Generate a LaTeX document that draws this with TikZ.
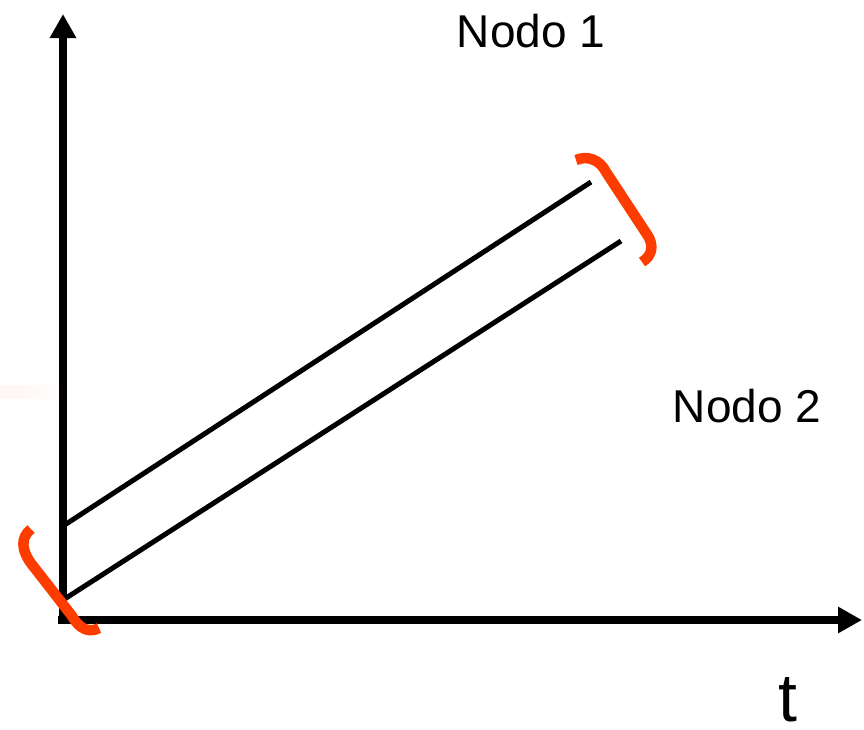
\documentclass[tikz,border=0pt]{standalone}
\usepackage{fontspec}
\setmainfont{Liberation Sans}
\usetikzlibrary{arrows.meta}
\definecolor{brk}{RGB}{255,60,0}
\tikzset{
  axis/.style={line width=8pt,-{Triangle[width=25pt,length=24pt]}},
  trace/.style={line width=5pt},
  bracket/.style={line width=10.5pt,brk,line cap=butt,line join=round},
  lbl/.style={font=\fontsize{46}{50}\selectfont,anchor=base,inner sep=0pt}
}
\begin{document}
\begin{tikzpicture}[x=1pt,y=-1pt]
\useasboundingbox (0,0) rectangle (864,729);
\fill[left color=red!4,right color=red!1] (0,385) rectangle (59,398);
\draw[black!15,line width=0.8pt] (59,385) -- (59,398);
\coordinate (o) at (63,620);
\coordinate (ytop) at (63,14);
\coordinate (xend) at (862,620);
\coordinate (ocorner) at (58,620);
\draw[axis] (63,624) -- (ytop);
\draw[axis] (ocorner) -- (xend);
\coordinate (a1) at (63,526);
\coordinate (a2) at (591,182);
\coordinate (b1) at (63,600);
\coordinate (b2) at (621,241);
\draw[trace] (a1) -- (a2);
\draw[trace] (b1) -- (b2);
\coordinate (l1) at (31,529);
\coordinate (l2) at (30,562);
\coordinate (l3) at (72,616);
\coordinate (l4) at (99,628);
\draw[bracket] (l1) .. controls (20,538) and (22,550) .. (l2) -- (l3) .. controls (80,630) and (90,633) .. (l4);
\coordinate (r1) at (576,160);
\coordinate (r2) at (606,172);
\coordinate (r3) at (648,236);
\coordinate (r4) at (642,262);
\draw[bracket] (r1) .. controls (588,155) and (600,160) .. (r2) -- (r3) .. controls (654,246) and (652,256) .. (r4);
\node[lbl] (n1) at (531,47) {Nodo 1};
\node[lbl] (n2) at (747,422) {Nodo 2};
\node[lbl,font=\fontsize{68}{72}\selectfont] (t) at (788,721) {t};
\end{tikzpicture}
\end{document}
